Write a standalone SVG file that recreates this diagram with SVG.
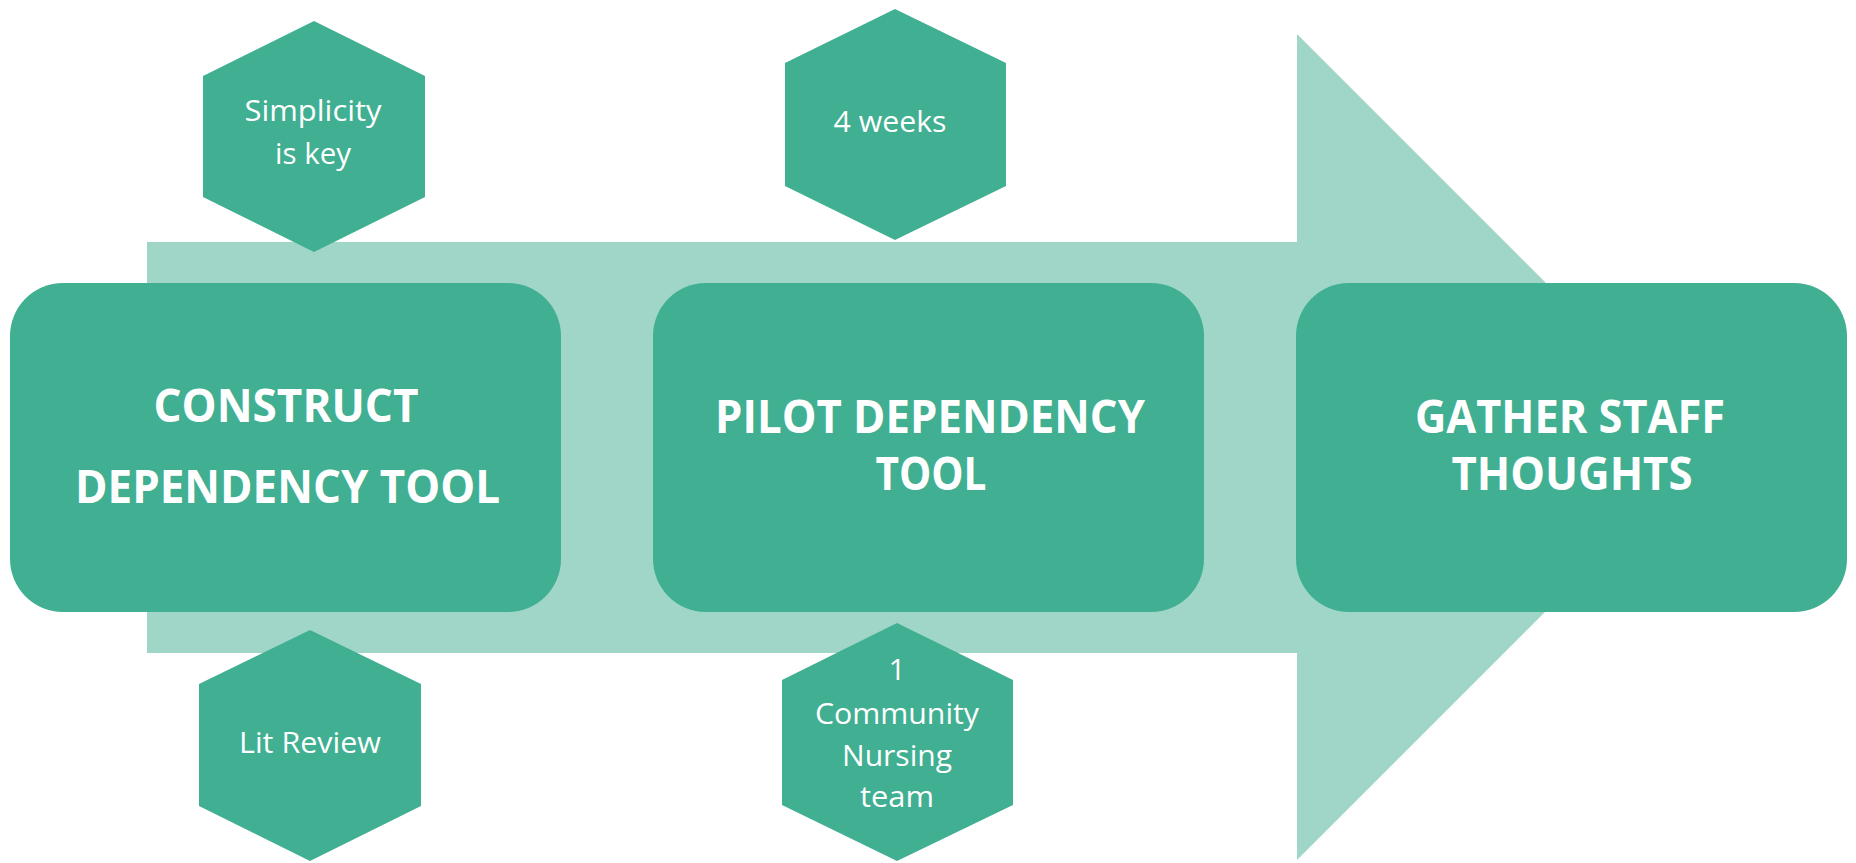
<svg xmlns="http://www.w3.org/2000/svg" width="1856" height="863" viewBox="0 0 1856 863">
<style>
.arrow{fill:#9FD6C8}
.box{fill:#40AF92}
.hex{fill:#40AF92}
.big{font-family:"Open Sans","Liberation Sans",sans-serif;font-weight:bold;font-size:46px;fill:#FFFFFF;text-anchor:middle}
.small{font-family:"Open Sans","Liberation Sans",sans-serif;font-size:30px;fill:#FFFFFF;text-anchor:middle}
</style>
<rect x="0" y="0" width="1856" height="863" fill="#FFFFFF"/>
<g id="connectors">
<polygon class="arrow" points="147,242 1297,242 1297,34 1710,447 1297,860 1297,653 147,653"/>
</g>
<g id="node-construct">
<rect class="box" x="10" y="283" width="551" height="329" rx="53" ry="53"/>
<text class="big" x="286" y="422" textLength="265" lengthAdjust="spacingAndGlyphs">CONSTRUCT</text>
<text class="big" x="287.5" y="503" textLength="425" lengthAdjust="spacingAndGlyphs">DEPENDENCY TOOL</text>
</g>
<g id="node-pilot">
<rect class="box" x="653" y="283" width="551" height="329" rx="53" ry="53"/>
<text class="big" x="930" y="433" textLength="430" lengthAdjust="spacingAndGlyphs">PILOT DEPENDENCY</text>
<text class="big" x="931" y="490" textLength="111" lengthAdjust="spacingAndGlyphs">TOOL</text>
</g>
<g id="node-gather">
<rect class="box" x="1296" y="283" width="551" height="329" rx="53" ry="53"/>
<text class="big" x="1570" y="433" textLength="310" lengthAdjust="spacingAndGlyphs">GATHER STAFF</text>
<text class="big" x="1572" y="490" textLength="241" lengthAdjust="spacingAndGlyphs">THOUGHTS</text>
</g>
<g id="node-simplicity">
<polygon class="hex" points="314,21 425,76 425,197 314,252 203,197 203,76"/>
<text class="small" x="313" y="121" textLength="137" lengthAdjust="spacingAndGlyphs">Simplicity</text>
<text class="small" x="313" y="164" textLength="76" lengthAdjust="spacingAndGlyphs">is key</text>
</g>
<g id="node-weeks">
<polygon class="hex" points="895,9 1006,63 1006,186 895,240 785,186 785,63"/>
<text class="small" x="890" y="132" textLength="113" lengthAdjust="spacingAndGlyphs">4 weeks</text>
</g>
<g id="node-litreview">
<polygon class="hex" points="310,630 421,684 421,806 310,861 199,806 199,684"/>
<text class="small" x="310" y="753" textLength="142" lengthAdjust="spacingAndGlyphs">Lit Review</text>
</g>
<g id="node-community">
<polygon class="hex" points="897,623 1013,680 1013,805 897,861 782,805 782,680"/>
<text class="small" x="897" y="680">1</text>
<text class="small" x="897" y="724" textLength="164" lengthAdjust="spacingAndGlyphs">Community</text>
<text class="small" x="897" y="766" textLength="110" lengthAdjust="spacingAndGlyphs">Nursing</text>
<text class="small" x="897" y="807" textLength="74" lengthAdjust="spacingAndGlyphs">team</text>
</g>
</svg>
